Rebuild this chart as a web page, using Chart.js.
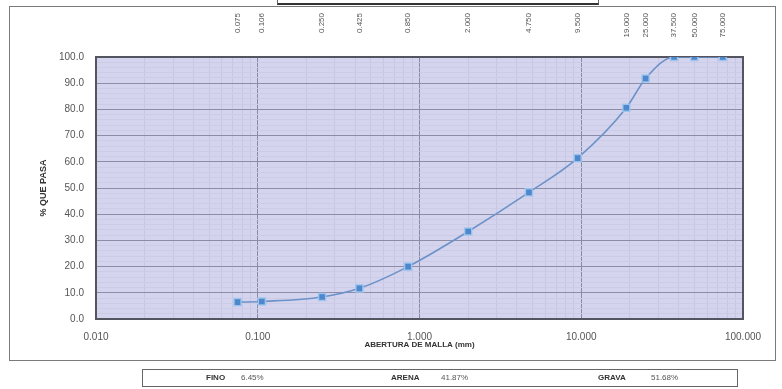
<!DOCTYPE html>
<html lang="es">
<head>
    <meta charset="UTF-8">
    <title>Curva granulométrica</title>
    <script src="https://cdn.jsdelivr.net/npm/chart.js"></script>
    <style>
        body {
            margin: 0;
            padding: 0;
            background: #ffffff;
            font-family: "Liberation Sans", Arial, sans-serif;
        }
        .page {
            position: relative;
            width: 782px;
            height: 389px;
            overflow: hidden;
        }
        #granChart {
            position: absolute;
            left: 0;
            top: 0;
        }
        .frame {
            position: absolute;
            left: 9px;
            top: 6px;
            width: 765px;
            height: 353px;
            border: 1px solid #7a7a7a;
        }
        .title-box {
            position: absolute;
            left: 277px;
            top: -12px;
            width: 320px;
            height: 14px;
            border: 1px solid #666;
            border-bottom: 2px solid #333;
        }
        .summary {
            position: absolute;
            left: 142px;
            top: 369px;
            width: 594px;
            height: 16px;
            border: 1px solid #666;
            font-size: 8px;
            color: #555;
        }
        .summary span {
            position: absolute;
            top: 3px;
        }
        .summary b {
            color: #333;
        }
    </style>
</head>
<body>
    <div class="page">
        <div class="frame"></div>
        <div class="title-box"></div>
        <canvas id="granChart" width="782" height="389"></canvas>
        <div class="summary">
            <span style="left: 63px;"><b>FINO</b></span>
            <span style="left: 98px;">6.45%</span>
            <span style="left: 248px;"><b>ARENA</b></span>
            <span style="left: 298px;">41.87%</span>
            <span style="left: 455px;"><b>GRAVA</b></span>
            <span style="left: 508px;">51.68%</span>
        </div>
    </div>

    <script>
        // Abertura de tamices (mm) y porcentaje que pasa
        const sieveSizes = [0.075, 0.106, 0.250, 0.425, 0.850, 2.000, 4.750, 9.500, 19.000, 25.000, 37.500, 50.000, 75.000];
        const sieveLabels = ['0.075', '0.106', '0.250', '0.425', '0.850', '2.000', '4.750', '9.500', '19.000', '25.000', '37.500', '50.000', '75.000'];
        const percentPassing = [6.45, 6.7, 8.4, 11.7, 20.0, 33.4, 48.32, 61.4, 80.6, 91.8, 100.0, 100.0, 100.0];

        const xMin = 0.01;
        const xMax = 100;

        const FONT = '"Liberation Sans", Arial, sans-serif';

        function isDecade(v) {
            const l = Math.log10(v);
            return Math.abs(l - Math.round(l)) < 1e-9;
        }

        // fondo y marco del área de gráfico
        const plotArea = {
            id: 'plotArea',
            beforeDraw(chart) {
                const { ctx, chartArea: a } = chart;
                ctx.save();
                ctx.fillStyle = '#d5d4ee';
                ctx.fillRect(a.left, a.top, a.right - a.left, a.bottom - a.top);
                ctx.restore();
            },
            beforeDatasetsDraw(chart) {
                const { ctx, chartArea: a } = chart;
                ctx.save();
                ctx.strokeStyle = '#555560';
                ctx.lineWidth = 2;
                ctx.strokeRect(a.left, a.top, a.right - a.left, a.bottom - a.top);
                ctx.restore();
            }
        };

        // rótulos de tamices en la parte superior
        const sieveTicks = {
            id: 'sieveTicks',
            afterDraw(chart) {
                const { ctx } = chart;
                const xs = chart.scales.x;
                ctx.save();
                ctx.font = '8px ' + FONT;
                ctx.fillStyle = '#555';
                ctx.textAlign = 'right';
                ctx.textBaseline = 'middle';
                sieveSizes.forEach((s, i) => {
                    const px = xs.getPixelForValue(s);
                    ctx.save();
                    ctx.translate(px, 13);
                    ctx.rotate(-Math.PI / 2);
                    ctx.fillText(sieveLabels[i], 0, 0);
                    ctx.restore();
                });
                ctx.restore();
            }
        };

        const ctx = document.getElementById('granChart').getContext('2d');
        new Chart(ctx, {
            type: 'line',
            data: {
                datasets: [{
                    data: sieveSizes.map((s, i) => ({ x: s, y: percentPassing[i] })),
                    borderColor: '#6c92c8',
                    borderWidth: 1.6,
                    cubicInterpolationMode: 'monotone',
                    pointStyle: 'rect',
                    pointRadius: 5,
                    pointBackgroundColor: '#4d88cc',
                    pointBorderColor: 'rgba(160,198,238,0.9)',
                    pointBorderWidth: 1.5,
                    fill: false
                }]
            },
            options: {
                responsive: false,
                animation: false,
                layout: {
                    padding: { left: 38, right: 39, top: 57, bottom: 39 }
                },
                plugins: {
                    legend: { display: false },
                    tooltip: { enabled: false }
                },
                scales: {
                    x: {
                        type: 'logarithmic',
                        min: xMin,
                        max: xMax,
                        afterBuildTicks(scale) {
                            const ticks = [];
                            for (let d = -2; d < 2; d++) {
                                for (let k = 1; k < 10; k++) {
                                    ticks.push({ value: k * Math.pow(10, d) });
                                }
                            }
                            ticks.push({ value: 100 });
                            scale.ticks = ticks;
                        },
                        afterFit(scale) {
                            scale.height = 31;
                        },
                        border: { display: false },
                        grid: {
                            drawTicks: false,
                            color: c => isDecade(c.tick.value) ? '#8b8aa6' : '#c8c7e3',
                            lineWidth: 1
                        },
                        ticks: {
                            autoSkip: false,
                            maxRotation: 0,
                            padding: 12,
                            color: '#555',
                            font: { family: FONT, size: 10 },
                            callback: v => isDecade(v) ? v.toFixed(3) : ''
                        },
                        title: {
                            display: true,
                            text: 'ABERTURA DE MALLA (mm)',
                            color: '#333',
                            padding: 0,
                            font: { family: FONT, size: 8, weight: 'bold' }
                        }
                    },
                    y: {
                        min: 0,
                        max: 100,
                        afterBuildTicks(scale) {
                            const ticks = [];
                            for (let v = 0; v <= 100; v += 2) ticks.push({ value: v });
                            scale.ticks = ticks;
                        },
                        afterFit(scale) {
                            scale.width = 58;
                        },
                        border: { display: false },
                        grid: {
                            drawTicks: false,
                            color: c => c.tick.value % 10 === 0 ? '#8e8da8' : '#cdcce7',
                            lineWidth: 1
                        },
                        ticks: {
                            autoSkip: false,
                            padding: 12,
                            color: '#555',
                            font: { family: FONT, size: 10 },
                            callback: v => v % 10 === 0 ? v.toFixed(1) : ''
                        },
                        title: {
                            display: true,
                            text: '% QUE PASA',
                            color: '#333',
                            padding: 0,
                            font: { family: FONT, size: 9, weight: 'bold' }
                        }
                    }
                }
            },
            plugins: [plotArea, sieveTicks]
        });
    </script>
</body>
</html>
